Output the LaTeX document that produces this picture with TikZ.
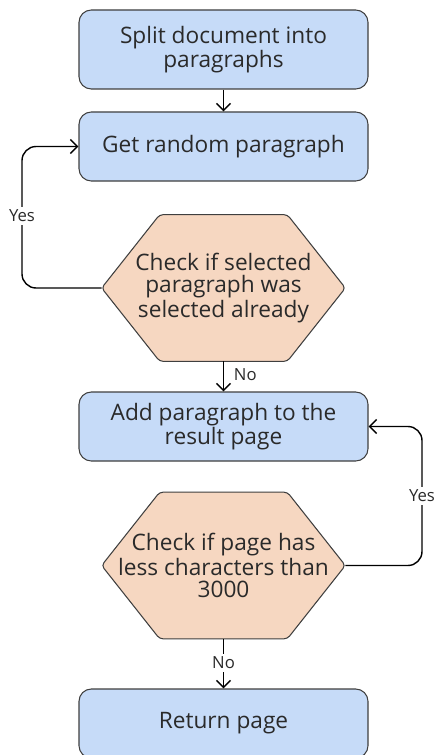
\documentclass[tikz,border=0pt]{standalone}
\usepackage{fontspec}
\setmainfont{Open Sans}
\usetikzlibrary{positioning,arrows.meta}
\definecolor{boxblue}{HTML}{C6DBF8}
\definecolor{hexpeach}{HTML}{F6D7C1}
\definecolor{edgegray}{HTML}{3F3F3F}
\definecolor{txtgray}{HTML}{2A2A2A}
\pgfdeclarelayer{back}
\pgfsetlayers{back,main}

\begin{document}
\begin{tikzpicture}[
  lbl/.style={font=\fontsize{9.5}{11}\selectfont, text=txtgray, inner sep=1.5pt},
  stepbox/.style={rectangle, rounded corners=7pt, draw=edgegray, line width=0.6pt, fill=boxblue,
    minimum width=5.78cm, minimum height=1.38cm, align=center, text=txtgray,
    font=\fontsize{12.9}{12.8}\selectfont},
  hexa/.style={rectangle, minimum width=4.86cm, minimum height=2.92cm, inner sep=0pt,
    align=center, text=txtgray, font=\fontsize{12.9}{12.8}\selectfont},
  hexline/.style={draw=edgegray, line width=0.6pt, rounded corners=2pt, fill=hexpeach},
  flowedge/.style={draw=black, line width=0.8pt, -{Straight Barb[length=4pt,width=8pt]}},
  loopedge/.style={flowedge, rounded corners=8pt}
]
\useasboundingbox (0,0) rectangle (8.68,-15.10);

\node[stepbox, minimum height=1.58cm] (nsplit) at (4.47,-0.99) {Split document into\\paragraphs};
\node[stepbox] (nget) at (4.47,-2.93) {Get random paragraph};
\node[hexa] (nseen) at (4.47,-5.76) {Check if selected\\paragraph was\\selected already};
\node[stepbox] (nadd) at (4.47,-8.53) {Add paragraph to the\\result page};
\node[hexa] (nsize) at (4.47,-11.31) {Check if page has\\less characters than\\3000};
\node[stepbox] (nret) at (4.47,-14.47) {Return page};
\coordinate (cleft) at (0.44,-5.76);
\coordinate (cright) at (8.44,-11.31);

\begin{pgfonlayer}{back}
\foreach \hx in {nseen,nsize}
  \path[hexline] (\hx.west) -- ([xshift=1.16cm]\hx.north west) -- ([xshift=-1.16cm]\hx.north east)
    -- (\hx.east) -- ([xshift=-1.16cm]\hx.south east) -- ([xshift=1.16cm]\hx.south west) -- cycle;
\end{pgfonlayer}

\draw[flowedge] (nsplit) -- (nget);
\draw[loopedge] (nseen.west) -- (cleft) |- (nget.west);
\draw[flowedge] (nseen) -- (nadd);
\draw[loopedge] (nsize.east) -- (cright) |- (nadd.east);
\draw[flowedge] (nsize) -- (nret);
\node[lbl, fill=white] (lyes1) at (0.44,-4.32) {Yes};
\node[lbl, anchor=west] (lno1) at (4.62,-7.50) {No};
\node[lbl, fill=white] (lyes2) at (8.44,-9.92) {Yes};
\node[lbl, fill=white] (lno2) at (4.47,-13.26) {No};

\end{tikzpicture}
\end{document}
